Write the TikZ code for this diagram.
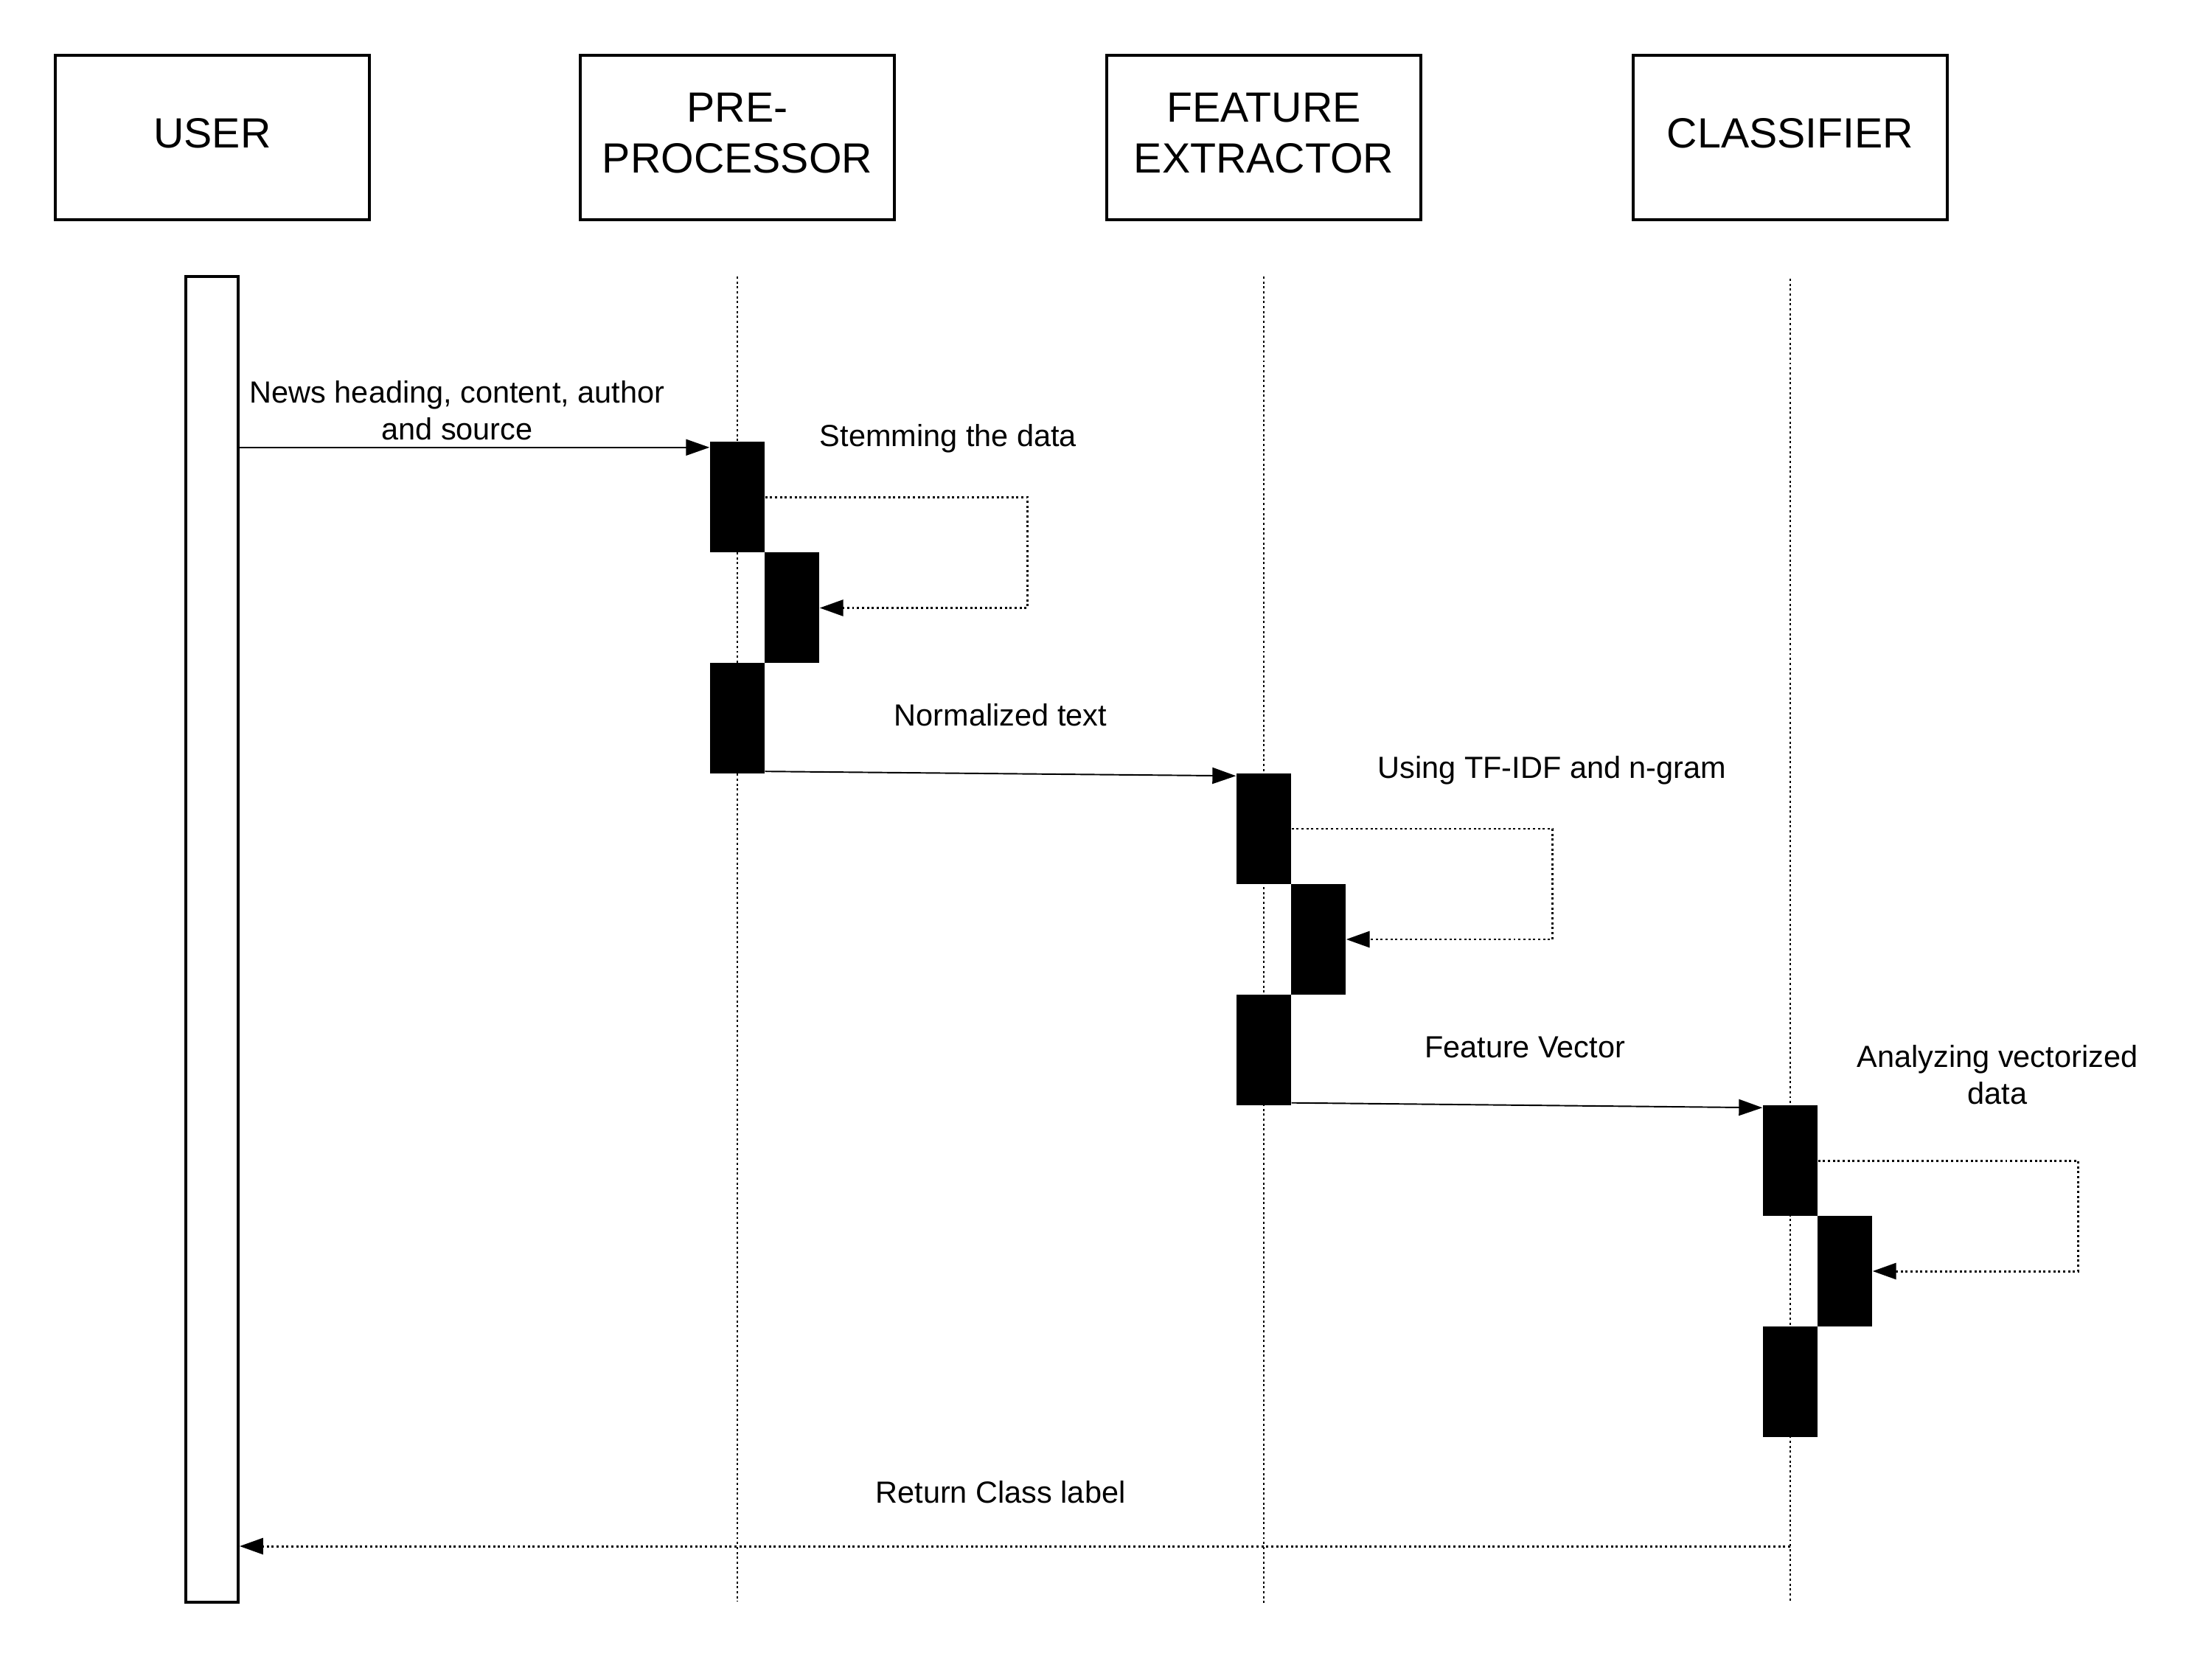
\documentclass[tikz,border=0pt]{standalone}
\usepackage{fontspec}
\setmainfont{Liberation Sans}
\usetikzlibrary{arrows.meta}

\begin{document}
\begin{tikzpicture}[
        actor/.style={
          draw, line width=1pt,
          minimum width=4.26cm, minimum height=2.23cm,
          align=center, inner sep=0pt, text depth=0.12cm,
          font=\fontsize{16.3}{19.6}\selectfont,
      },
        act bar/.style={fill=black, minimum width=0.74cm, minimum height=1.5cm, inner sep=0pt},
        life/.style={line width=0.85pt, dash pattern=on 0.85pt off 1.05pt},
        msg/.style={line width=0.55pt, -{Triangle[length=3.2mm,width=2.2mm]}},
        self msg/.style={life, -{Triangle[length=3.2mm,width=2.2mm]}},
        lbl/.style={align=center, font=\fontsize{11.8}{14.2}\selectfont},
      ]
      \useasboundingbox (0,0) rectangle (30,-22.5);
      % heads
      \node[actor] (user) at (2.88,-1.865) {USER};
      \node[actor] (pre) at (10,-1.865) {PRE-\\PROCESSOR};
      \node[actor] (feat) at (17.14,-1.865) {FEATURE\\EXTRACTOR};
      \node[actor] (cls) at (24.28,-1.865) {CLASSIFIER};
      % lifelines
      \coordinate (pre top) at (10,-3.75);
      \coordinate (pre end) at (10,-21.72);
      \coordinate (feat top) at (17.14,-3.75);
      \coordinate (feat end) at (17.14,-21.74);
      \coordinate (cls top) at (24.28,-3.78);
      \coordinate (cls end) at (24.28,-21.74);
      \draw[life, line width=0.6pt] (pre top) -- (pre end);
      \draw[life, line width=0.6pt] (feat top) -- (feat end);
      \draw[life, line width=0.6pt] (cls top) -- (cls end);
      \node[draw, line width=1.1pt, minimum width=0.71cm, minimum height=17.98cm, inner sep=0pt] (user bar) at (2.875,-12.74) {};
      % activations
      \node[act bar] (pre a) at (10,-6.745) {};
      \node[act bar] (pre b) at (10.74,-8.245) {};
      \node[act bar] (pre c) at (10,-9.745) {};
      \node[act bar] (feat a) at (17.14,-11.24) {};
      \node[act bar] (feat b) at (17.88,-12.74) {};
      \node[act bar] (feat c) at (17.14,-14.24) {};
      \node[act bar] (cls a) at (24.28,-15.74) {};
      \node[act bar] (cls b) at (25.02,-17.24) {};
      \node[act bar] (cls c) at (24.28,-18.74) {};
      % messages
      \coordinate (m1) at ([yshift=-0.08cm]pre a.north west);
      \draw[msg] (user bar.east |- m1) -- (m1);
      \node[lbl] (m1 text) at (6.2,-5.57) {News heading, content, author\\and source};
      \draw[self msg] (pre a.east) -- ++(3.56,0) |- (pre b.east);
      \node[lbl] (stem text) at (12.86,-5.95) {Stemming the data};
      \draw[msg] ([yshift=0.04cm]pre c.south east) -- ([yshift=-0.04cm]feat a.north west);
      \node[lbl] (norm text) at (13.57,-9.7) {Normalized text};
      \draw[self msg] (feat a.east) -- ++(3.54,0) |- (feat b.east);
      \node[lbl] (tfidf text) at (21.05,-10.45) {Using TF-IDF and n-gram};
      \draw[msg] ([yshift=0.04cm]feat c.south east) -- ([yshift=-0.04cm]cls a.north west);
      \node[lbl] (vec text) at (20.68,-14.2) {Feature Vector};
      \draw[self msg] (cls a.east) -- ++(3.53,0) |- (cls b.east);
      \node[lbl] (ana text) at (27.09,-14.58) {Analyzing vectorized\\data};
      \coordinate (ret) at (24.28,-20.97);
      \draw[self msg] (ret) -- (ret -| user bar.east);
      \node[lbl] (ret text) at (13.57,-20.24) {Return Class label};
    \end{tikzpicture}
\end{document}
